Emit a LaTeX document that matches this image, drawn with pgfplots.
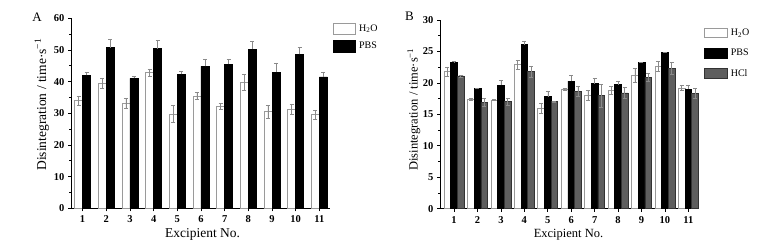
\documentclass[border=0pt]{standalone}
\usepackage{fontspec}
\setmainfont{Liberation Serif}
\usepackage{pgfplots}
\usepackage{pgfplotstable}
\pgfplotsset{compat=1.18}

\pgfplotstableread{
x h2o h2oe pbs pbse
1 34.0 1.5 42.0 1.0
2 39.5 1.6 50.7 2.7
3 33.2 1.6 41.0 0.7
4 42.8 1.2 50.4 2.7
5 29.8 2.6 42.3 1.1
6 35.5 1.2 44.8 2.2
7 32.2 1.0 45.5 1.5
8 39.9 2.5 50.3 2.4
9 30.5 2.0 43.0 2.9
10 31.3 1.7 48.6 2.2
11 29.6 1.4 41.5 1.6
}\tabA

\pgfplotstableread{
x h2o h2oe pbs pbse hcl hcle
1 21.8 0.75 23.3 0.1 21.1 0.15
2 17.4 0.1 19.1 0.1 16.9 0.6
3 17.3 0.1 19.6 0.8 17.0 0.5
4 22.9 0.7 26.1 0.6 21.8 0.9
5 15.9 0.8 17.8 0.9 17.0 0.1
6 19.0 0.1 20.3 0.9 18.7 0.8
7 18.0 0.8 19.9 0.8 18.0 1.8
8 18.8 0.6 19.7 0.6 18.4 0.9
9 21.2 1.1 23.2 0.1 20.9 0.6
10 22.6 0.8 24.8 0.1 22.3 0.95
11 19.2 0.4 19.0 0.7 18.3 0.8
}\tabB

\definecolor{h2oedge}{HTML}{9A9A9A}
\definecolor{hclfill}{HTML}{5E5E5E}
\definecolor{errgray}{HTML}{8A8A8A}

\pgfplotsset{
  common/.style={
    scale only axis,
    axis x line=bottom, axis y line=left,
    axis line style={-, line width=0.7pt},
    tick align=outside,
    major tick length=3pt, minor tick length=1.8pt,
    tick style={black, line width=0.6pt},
    xtick={1,...,11},
    minor y tick num=1,
    ymin=0,
    ybar, 
    /pgf/number format/assume math mode=true,
    ticklabel style={font=\bfseries\fontsize{10.5}{11}\selectfont},
    xticklabel style={yshift=-1pt},
    legend cell align=left,
    clip=false,
  },
  err/.style={error bars/.cd, y dir=both, y explicit,
    error bar style={errgray, line width=0.5pt},
    error mark options={rotate=90, mark size=2pt, errgray, line width=0.5pt}},
  errp/.style={error bars/.cd, y dir=plus, y explicit,
    error bar style={errgray, line width=0.5pt},
    error mark options={rotate=90, mark size=2pt, errgray, line width=0.5pt}},
}

\begin{document}
\begin{tikzpicture}
\useasboundingbox (0pt,0pt) rectangle (778pt,246pt);

% Panel A
\begin{axis}[common,
  at={(71pt,37.7pt)}, anchor=south west,
  width=259pt, height=190pt,
  xmin=0.51, xmax=11.45, ymax=60,
  ytick={0,10,...,60},
  bar width=0.34,
  xlabel={Excipient No.},
  ylabel={Disintegration / time·s\textsuperscript{−1}},
  xlabel style={font=\fontsize{13.5}{14}\selectfont, at={(axis description cs:0.508,-0.154)}, anchor=base},
  ylabel style={font=\fontsize{13.5}{14}\selectfont, at={(axis description cs:-0.113,0.546)}, anchor=center, rotate=0},
  legend style={at={(axis description cs:1.009,0.977)}, anchor=north west, draw=none, fill=none,
    inner sep=0pt, row sep=5.3pt, column sep=2pt,
    font=\fontsize{10}{11}\selectfont},
  legend image code/.code={\draw[#1, line width=0.6pt] (0pt,-5.65pt) rectangle (22pt,5.65pt);},
]
\addplot[draw=h2oedge, fill=white, line width=0.6pt, bar shift=-0.17, err]
  table[x=x, y=h2o, y error=h2oe] {\tabA};
\addlegendentry{H\textsubscript{2}O}
\addplot[draw=black, fill=black, line width=0.6pt, bar shift=0.17, errp]
  table[x=x, y=pbs, y error=pbse] {\tabA};
\addlegendentry{PBS}
\end{axis}

% Panel B
\begin{axis}[common,
  at={(440pt,37.3pt)}, anchor=south west,
  width=257pt, height=188.7pt,
  xmin=0.40, xmax=11.37, ymax=30,
  ytick={0,5,...,30},
  bar width=0.285,
  xlabel={Excipient No.},
  ylabel={Disintegration / time·s\textsuperscript{−1}},
  xlabel style={font=\fontsize{12.5}{13}\selectfont, at={(axis description cs:0.5,-0.153)}, anchor=base},
  ylabel style={font=\fontsize{12.5}{13}\selectfont, at={(axis description cs:-0.102,0.526)}, anchor=center, rotate=0},
  legend style={at={(axis description cs:1.026,0.9645)}, anchor=north west, draw=none, fill=none,
    inner sep=0pt, row sep=8pt, column sep=1pt,
    font=\fontsize{10}{11}\selectfont},
  legend image code/.code={\draw[#1, line width=0.6pt] (0pt,-4.75pt) rectangle (23.3pt,4.75pt);},
]
\addplot[draw=h2oedge, fill=white, line width=0.6pt, bar shift=-0.285, err]
  table[x=x, y=h2o, y error=h2oe] {\tabB};
\addlegendentry{H\textsubscript{2}O}
\addplot[draw=black, fill=black, line width=0.6pt, bar shift=0, errp]
  table[x=x, y=pbs, y error=pbse] {\tabB};
\addlegendentry{PBS}
\addplot[draw=black!80, fill=hclfill, line width=0.6pt, bar shift=0.285, err]
  table[x=x, y=hcl, y error=hcle] {\tabB};
\addlegendentry{HCl}
\end{axis}

\node[font=\fontsize{13}{13}\selectfont] at (37pt,229pt) {A};
\node[font=\fontsize{13}{13}\selectfont] at (409.5pt,229.5pt) {B};
\end{tikzpicture}
\end{document}
